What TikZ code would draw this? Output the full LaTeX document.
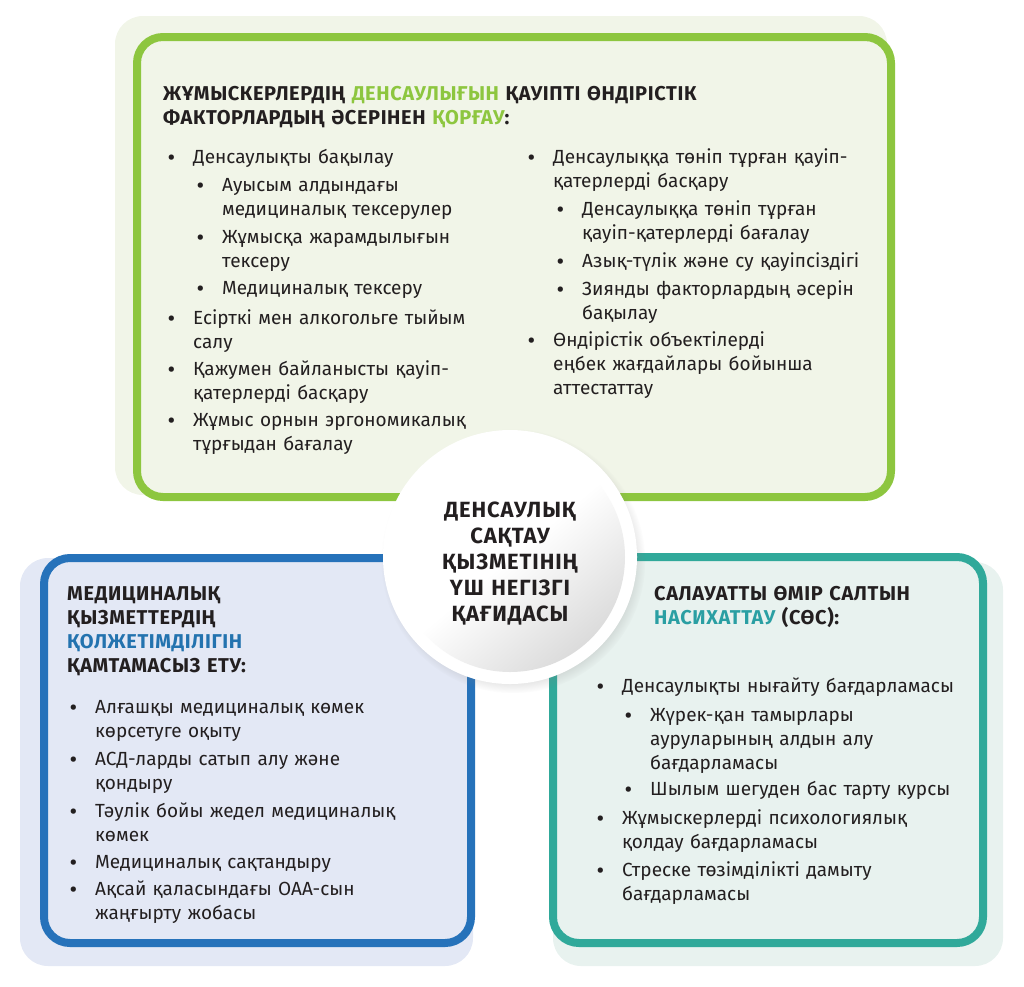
\documentclass[tikz,border=0pt]{standalone}
\usepackage{fontspec}
\setmainfont{Fira Sans}
\newfontfamily\bulfont{PT Sans}
\usetikzlibrary{shadows,fadings}

\definecolor{grnline}{HTML}{8DC63F}
\definecolor{grnpale}{HTML}{F1F5E8}
\definecolor{blueline}{HTML}{2672BA}
\definecolor{bluepale}{HTML}{E3E8F5}
\definecolor{bluetxt}{HTML}{2373AF}
\definecolor{tealline}{HTML}{30A99A}
\definecolor{tealpale}{HTML}{E8F2EF}
\definecolor{tealtxt}{HTML}{2A9FA3}
\definecolor{ink}{HTML}{231F20}

\newcommand\bodysize{\fontsize{19}{24}\selectfont}
\newcommand\headsize{\fontsize{20}{24}\selectfont\bfseries\addfontfeature{LetterSpace=3}}
\newcommand\itm[4]{\node[itm] (#1) at (#2,#3) {#4};
  \node[bul] (#1b) at (#1.base west) {•};}

\tikzset{
  pale/.style={rounded corners=28pt},
  frame/.style={line width=8pt, rounded corners=26pt},
  itm/.style={anchor=base west, inner sep=0pt, text width=370pt, align=left, font=\bodysize, text=ink},
  bul/.style={anchor=base west, inner sep=0pt, xshift=-26pt, font=\bodysize\bulfont, text=ink},
  head/.style={anchor=base west, inner sep=0pt, text width=620pt, align=left, font=\headsize, text=ink},
}

\begin{document}
\begin{tikzpicture}[x=1pt,y=-1pt]
\useasboundingbox (0,0) rectangle (1024,986);

% green panel
\fill[grnpale, pale] (115,16) rectangle (887,495);
\draw[grnline, fill=grnpale, frame] (137,37) rectangle (891,497);

% blue panel
\fill[bluepale, pale] (20,558) rectangle (473,966);
\draw[blueline, fill=bluepale, frame] (44,558) rectangle (471,943);

% teal panel
\fill[tealpale, pale] (553,562) rectangle (1003,966);
\draw[tealline, fill=tealpale, frame] (553,557) rectangle (983,943);

\node[head] (gh) at (163,100) {ЖҰМЫСКЕРЛЕРДІҢ \textcolor{grnline}{ДЕНСАУЛЫҒЫН} ҚАУІПТІ ӨНДІРІСТІК\\ФАКТОРЛАРДЫҢ ӘСЕРІНЕН \textcolor{grnline}{ҚОРҒАУ}:};

\itm{g1}{193}{163}{Денсаулықты бақылау}
\itm{g2}{222}{191}{Ауысым алдындағы\\медициналық тексерулер}
\itm{g3}{222}{243}{Жұмысқа жарамдылығын\\тексеру}
\itm{g4}{222}{294}{Медициналық тексеру}
\itm{g5}{193}{324}{Есірткі мен алкогольге тыйым\\салу}
\itm{g6}{193}{375}{Қажумен байланысты қауіп-\\қатерлерді басқару}
\itm{g7}{193}{426}{Жұмыс орнын эргономикалық\\тұрғыдан бағалау}

\itm{g8}{553}{163}{Денсаулыққа төніп тұрған қауіп-\\қатерлерді басқару}
\itm{g9}{582}{215}{Денсаулыққа төніп тұрған\\қауіп-қатерлерді бағалау}
\itm{g10}{582}{267}{Азық-түлік және су қауіпсіздігі}
\itm{g11}{582}{295}{Зиянды факторлардың әсерін\\бақылау}
\itm{g12}{553}{346}{Өндірістік объектілерді\\еңбек жағдайлары бойынша\\аттестаттау}

\node[head] (bh) at (67,600) {МЕДИЦИНАЛЫҚ\\ҚЫЗМЕТТЕРДІҢ\\\textcolor{bluetxt}{ҚОЛЖЕТІМДІЛІГІН}\\ҚАМТАМАСЫЗ ЕТУ:};

\itm{b1}{95}{713}{Алғашқы медициналық көмек\\көрсетуге оқыту}
\itm{b2}{95}{765}{АСД-ларды сатып алу және\\қондыру}
\itm{b3}{95}{817}{Тәулік бойы жедел медициналық\\көмек}
\itm{b4}{95}{868}{Медициналық сақтандыру}
\itm{b5}{95}{895}{Ақсай қаласындағы ОАА-сын\\жаңғырту жобасы}

\node[head] (th) at (654,600) {САЛАУАТТЫ ӨМІР САЛТЫН\\\textcolor{tealtxt}{НАСИХАТТАУ} (СӨС):};

\itm{t1}{622}{692}{Денсаулықты нығайту бағдарламасы}
\itm{t2}{650}{721}{Жүрек-қан тамырлары\\ауруларының алдын алу\\бағдарламасы}
\itm{t3}{650}{795}{Шылым шегуден бас тарту курсы}
\itm{t4}{622}{824}{Жұмыскерлерді психологиялық\\қолдау бағдарламасы}
\itm{t5}{622}{876}{Стреске төзімділікті дамыту\\бағдарламасы}

% centre disc
\node[circle, minimum size=254pt, fill=white, circular drop shadow={shadow xshift=3pt, shadow yshift=-4pt, opacity=.35, shadow scale=1.04}] (hub) at (510,557) {};
\node[circle, minimum size=230pt, top color=white, bottom color=black!14, middle color=white, shading angle=40] (core) at (hub.center) {};
\node[anchor=base, inner sep=0pt, text width=240pt, align=center, font=\fontsize{22}{26}\selectfont\bfseries\addfontfeature{LetterSpace=4}, text=ink] (hubtxt) at (510,517) {ДЕНСАУЛЫҚ\\САҚТАУ\\ҚЫЗМЕТІНІҢ\\ҮШ НЕГІЗГІ\\ҚАҒИДАСЫ};

\end{tikzpicture}
\end{document}
